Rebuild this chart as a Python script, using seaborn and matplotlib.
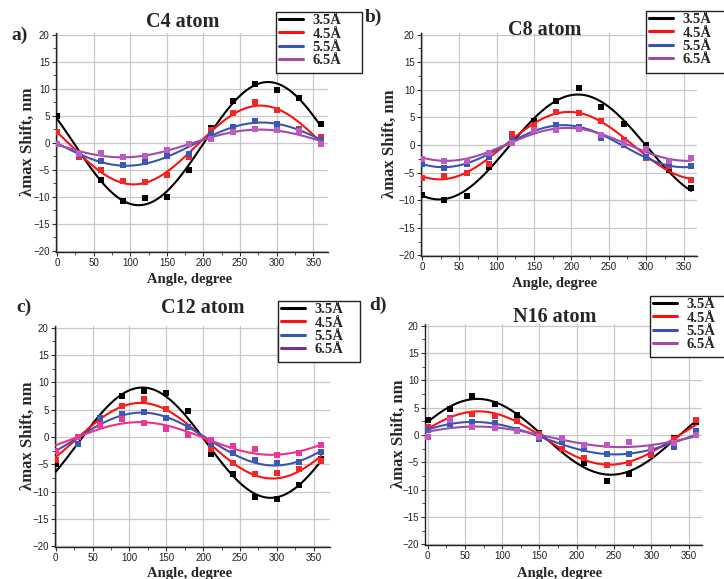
import numpy as np
import pandas as pd
import matplotlib
matplotlib.use("Agg")
import matplotlib.pyplot as plt
import seaborn as sns
from matplotlib.lines import Line2D
from matplotlib.patches import Rectangle
from matplotlib.ticker import MultipleLocator
from matplotlib.font_manager import FontProperties

# ---------------- data ----------------
angles = [0, 30, 60, 90, 120, 150, 180, 210, 240, 270, 300, 330, 360]
distances = ["3.5Å", "4.5Å", "5.5Å", "6.5Å"]
titles = ["C4 atom", "C8 atom", "C12 atom", "N16 atom"]
panel_letters = ["a)", "b)", "c)", "d)"]

c4_35 = [5.0, -2.4, -6.8, -10.8, -10.3, -10.0, -5.0, 2.8, 7.8, 10.9, 9.8, 8.3, 3.5]
c4_45 = [2.0, -2.6, -5.1, -7.0, -7.2, -5.9, -2.6, 2.4, 5.5, 7.6, 6.0, 2.6, 1.1]
c4_55 = [-0.2, -2.3, -3.4, -4.1, -3.5, -2.4, -2.0, 1.7, 3.0, 4.1, 3.4, 2.3, 0.5]
c4_65 = [-0.3, -2.0, -1.9, -2.6, -2.4, -1.4, -0.3, 0.7, 2.0, 2.5, 2.3, 2.1, -0.3]

c8_35 = [-9.0, -9.9, -9.3, -3.9, 0.8, 4.4, 8.0, 10.4, 6.9, 3.8, 0.1, -4.5, -7.7]
c8_45 = [-6.0, -5.6, -5.0, -3.5, 2.0, 3.6, 6.0, 5.8, 4.3, 1.0, -2.3, -3.8, -6.3]
c8_55 = [-3.5, -4.2, -3.4, -2.1, 0.9, 2.8, 3.6, 3.3, 1.3, 0.1, -2.2, -3.4, -3.8]
c8_65 = [-2.5, -2.8, -2.8, -1.4, 0.4, 2.7, 2.65, 2.95, 1.9, 0.3, -0.8, -2.8, -2.3]

c12_35 = [-5.0, -1.3, 3.4, 7.5, 8.4, 8.0, 4.7, -3.1, -6.8, -11.0, -11.4, -8.8, -4.0]
c12_45 = [-4.2, 0.0, 3.2, 5.7, 6.9, 5.1, 1.9, -2.1, -4.7, -6.8, -6.6, -5.9, -4.3]
c12_55 = [-2.6, -1.3, 3.4, 4.3, 4.5, 3.4, 1.8, -1.3, -2.9, -4.2, -4.8, -4.5, -2.8]
c12_65 = [-2.6, 0.0, 2.2, 3.3, 2.6, 1.5, 0.3, -0.6, -1.7, -2.2, -3.2, -2.9, -1.4]

n16_35 = [2.7, 4.7, 7.1, 5.6, 3.6, 0.4, -2.6, -5.1, -8.4, -7.2, -3.7, -0.6, 2.3]
n16_45 = [1.5, 3.2, 3.8, 3.5, 2.5, 0.2, -2.5, -4.2, -5.5, -5.2, -3.6, -0.8, 2.7]
n16_55 = [1.0, 2.0, 2.4, 2.2, 0.9, -0.7, -1.3, -2.6, -3.55, -3.4, -2.7, -2.1, 0.8]
n16_65 = [-0.4, 2.7, 1.4, 1.2, 0.8, -0.4, -0.6, -1.8, -1.9, -1.3, -2.6, -1.45, 0.1]

panels = [
    [c4_35, c4_45, c4_55, c4_65],
    [c8_35, c8_45, c8_55, c8_65],
    [c12_35, c12_45, c12_55, c12_65],
    [n16_35, n16_45, n16_55, n16_65],
]

# ---------------- styling ----------------
W, H = 724, 579
sns.set_theme(style="white")
plt.rcParams["font.family"] = ["Liberation Sans", "DejaVu Sans"]

serif_bold = dict(family=["Liberation Serif", "DejaVu Serif"], weight="bold")

line_colors_std = ["#000000", "#ff1010", "#3a55b0", "#a24aa8"]
point_colors_std = ["#000000", "#f02828", "#3a58b8", "#c05ac4"]
line_colors_c = ["#000000", "#ff1010", "#3a55b0", "#ee2f8c"]
point_colors_c = ["#000000", "#f02828", "#3a58b8", "#e8389a"]
legend_colors = [
    ["#000000", "#ff1010", "#3a55b0", "#a24aa8"],
    ["#000000", "#ff1010", "#3a55b0", "#a24aa8"],
    ["#000000", "#ff1010", "#3a55b0", "#7a2f8c"],
    ["#000000", "#ff1010", "#3a55b0", "#a24aa8"],
]

# axes boxes in pixels: left, top, right, bottom ; xlim ; ylim
axes_px = [
    (56, 33, 328, 252, (-1.4, 370), (-20.2, 20.3)),
    (421, 33, 697, 256, (-1.2, 368), (-20.1, 20.3)),
    (55, 326, 330, 547, (-1.0, 372), (-20.1, 20.3)),
    (425, 324, 702, 545, (-3.5, 368), (-20.1, 20.3)),
]
title_px = [(183, 22), (545, 30), (203, 308), (555, 317)]
letter_px = [(20, 35), (373, 17), (24, 307), (378, 305)]
legend_box_px = [(276, 12, 362, 73), (646, 11, 726, 73),
                 (278, 301, 360, 362), (650, 296, 726, 357)]
xlabel_px = [(190, 280), (555, 283), (190, 573), (560, 573)]
ylabel_px = [(28, 142), (390, 144), (28, 436), (399, 434)]


def fx(px):
    return px / W


def fy(py):
    return 1 - py / H


def sine_fit(x, y):
    """Least-squares fit y = y0 + A sin(pi (x - xc) / w) (free half-period w)."""
    x = np.asarray(x, float)
    y = np.asarray(y, float)
    best = None
    for w in np.arange(120, 320, 0.5):
        k = np.pi / w
        A = np.column_stack([np.ones_like(x), np.sin(k * x), np.cos(k * x)])
        coef = np.linalg.lstsq(A, y, rcond=None)[0]
        r = np.sum((A @ coef - y) ** 2)
        if best is None or r < best[0]:
            best = (r, k, coef)
    _, k, coef = best
    xs = np.linspace(0, 360, 361)
    return xs, coef[0] + coef[1] * np.sin(k * xs) + coef[2] * np.cos(k * xs)


fig = plt.figure(figsize=(W / 100, H / 100), dpi=100)
fig.patch.set_facecolor("white")

for i, series in enumerate(panels):
    l, t, r, b, xlim, ylim = axes_px[i]
    ax = fig.add_axes([fx(l), fy(b), (r - l) / W, (b - t) / H])

    pts = pd.DataFrame({
        "angle": np.tile(angles, len(distances)),
        "shift": np.concatenate(series),
        "dist": np.repeat(distances, len(angles)),
    })
    curves = []
    for d, vals in zip(distances, series):
        xs, ys = sine_fit(angles, vals)
        curves.append(pd.DataFrame({"angle": xs, "shift": ys, "dist": d}))
    curves = pd.concat(curves, ignore_index=True)

    lc = line_colors_c if i == 2 else line_colors_std
    pc = point_colors_c if i == 2 else point_colors_std

    ax.grid(True, color="#c8c8c8", lw=0.9)
    ax.set_axisbelow(True)
    for j, d in enumerate(distances):
        sns.lineplot(data=curves[curves["dist"] == d], x="angle", y="shift",
                     color=lc[j], lw=1.5, ax=ax, legend=False, zorder=3 + j)
        sns.scatterplot(data=pts[pts["dist"] == d], x="angle", y="shift",
                        color=pc[j], marker="s", s=22, linewidth=0,
                        ax=ax, legend=False, zorder=3.5 + j)

    ax.set_xlim(*xlim)
    ax.set_ylim(*ylim)
    ax.xaxis.set_major_locator(MultipleLocator(50))
    ax.xaxis.set_minor_locator(MultipleLocator(25))
    ax.yaxis.set_major_locator(MultipleLocator(5))
    ax.yaxis.set_minor_locator(MultipleLocator(2.5))
    ax.tick_params(axis="both", which="major", direction="out", length=3,
                   width=0.8, labelsize=7, color="#333333", labelcolor="#222222",
                   pad=1.5, bottom=True, left=True)
    ax.tick_params(axis="both", which="minor", direction="out", length=2,
                   width=0.6, color="#333333", bottom=True, left=True)
    for side in ("top", "right"):
        ax.spines[side].set_visible(False)
    for side in ("left", "bottom"):
        ax.spines[side].set_color("#222222")
        ax.spines[side].set_linewidth(1.0)

    ax.set_xlabel("Angle, degree", fontsize=10.5, **serif_bold)
    ax.set_ylabel("λmax Shift, nm", fontsize=12, **serif_bold)
    ax.xaxis.set_label_coords(fx(xlabel_px[i][0]), fy(xlabel_px[i][1]),
                              transform=fig.transFigure)
    ax.yaxis.set_label_coords(fx(ylabel_px[i][0]), fy(ylabel_px[i][1]),
                              transform=fig.transFigure)
    ax.xaxis.label.set_va("center")
    ax.yaxis.label.set_va("center")

    fig.text(fx(title_px[i][0]), fy(title_px[i][1]), titles[i], ha="center",
             va="center", fontsize=14.5, **serif_bold)
    fig.text(fx(letter_px[i][0]), fy(letter_px[i][1]), panel_letters[i],
             ha="center", va="center", fontsize=14, **serif_bold)

    # legend frame + legend
    bl, bt, br, bb = legend_box_px[i]
    fig.add_artist(Rectangle((fx(bl), fy(bb)), (br - bl) / W, (bb - bt) / H,
                             transform=fig.transFigure, facecolor="white",
                             edgecolor="#222222", lw=1.0, zorder=10))
    handles = [Line2D([], [], color=c, lw=2.2) for c in legend_colors[i]]
    leg = fig.legend(handles, distances, loc="upper left",
                     bbox_to_anchor=(fx(bl + 1), fy(bt)),
                     bbox_transform=fig.transFigure, frameon=False,
                     prop=FontProperties(family=["Liberation Serif"], weight="bold", size=10.5),
                     handlelength=1.6, handletextpad=0.7, labelspacing=0.0,
                     borderpad=0.15, borderaxespad=0)
    leg.set_zorder(11)

fig.savefig("out.png", dpi=100, facecolor="white")
